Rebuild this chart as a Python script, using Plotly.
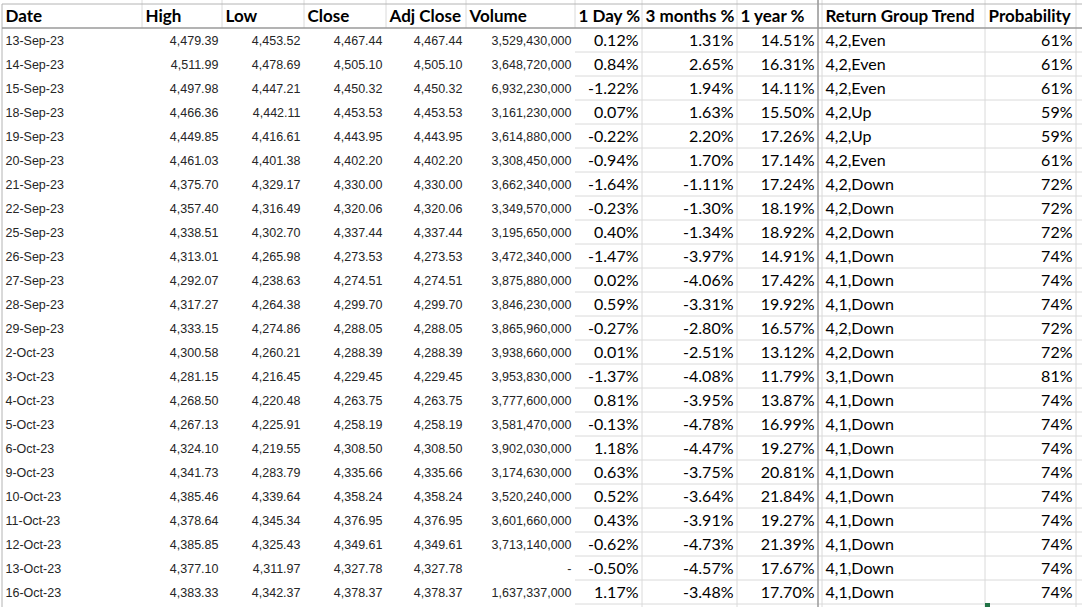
import plotly.graph_objects as go

# spreadsheet content
dates = ["13-Sep-23", "14-Sep-23", "15-Sep-23", "18-Sep-23", "19-Sep-23", "20-Sep-23",
         "21-Sep-23", "22-Sep-23", "25-Sep-23", "26-Sep-23", "27-Sep-23", "28-Sep-23",
         "29-Sep-23", "2-Oct-23", "3-Oct-23", "4-Oct-23", "5-Oct-23", "6-Oct-23",
         "9-Oct-23", "10-Oct-23", "11-Oct-23", "12-Oct-23", "13-Oct-23", "16-Oct-23"]
high = [4479.39, 4511.99, 4497.98, 4466.36, 4449.85, 4461.03, 4375.70, 4357.40, 4338.51,
        4313.01, 4292.07, 4317.27, 4333.15, 4300.58, 4281.15, 4268.50, 4267.13, 4324.10,
        4341.73, 4385.46, 4378.64, 4385.85, 4377.10, 4383.33]
low = [4453.52, 4478.69, 4447.21, 4442.11, 4416.61, 4401.38, 4329.17, 4316.49, 4302.70,
       4265.98, 4238.63, 4264.38, 4274.86, 4260.21, 4216.45, 4220.48, 4225.91, 4219.55,
       4283.79, 4339.64, 4345.34, 4325.43, 4311.97, 4342.37]
close = [4467.44, 4505.10, 4450.32, 4453.53, 4443.95, 4402.20, 4330.00, 4320.06, 4337.44,
         4273.53, 4274.51, 4299.70, 4288.05, 4288.39, 4229.45, 4263.75, 4258.19, 4308.50,
         4335.66, 4358.24, 4376.95, 4349.61, 4327.78, 4378.37]
adj_close = close[:]
volume = [3529430000, 3648720000, 6932230000, 3161230000, 3614880000, 3308450000,
          3662340000, 3349570000, 3195650000, 3472340000, 3875880000, 3846230000,
          3865960000, 3938660000, 3953830000, 3777600000, 3581470000, 3902030000,
          3174630000, 3520240000, 3601660000, 3713140000, None, 1637337000]
day_pct = [0.12, 0.84, -1.22, 0.07, -0.22, -0.94, -1.64, -0.23, 0.40, -1.47, 0.02, 0.59,
           -0.27, 0.01, -1.37, 0.81, -0.13, 1.18, 0.63, 0.52, 0.43, -0.62, -0.50, 1.17]
month3_pct = [1.31, 2.65, 1.94, 1.63, 2.20, 1.70, -1.11, -1.30, -1.34, -3.97, -4.06, -3.31,
              -2.80, -2.51, -4.08, -3.95, -4.78, -4.47, -3.75, -3.64, -3.91, -4.73, -4.57, -3.48]
year1_pct = [14.51, 16.31, 14.11, 15.50, 17.26, 17.14, 17.24, 18.19, 18.92, 14.91, 17.42, 19.92,
             16.57, 13.12, 11.79, 13.87, 16.99, 19.27, 20.81, 21.84, 19.27, 21.39, 17.67, 17.70]
trend = ["4,2,Even", "4,2,Even", "4,2,Even", "4,2,Up", "4,2,Up", "4,2,Even",
         "4,2,Down", "4,2,Down", "4,2,Down", "4,1,Down", "4,1,Down", "4,1,Down",
         "4,2,Down", "4,2,Down", "3,1,Down", "4,1,Down", "4,1,Down", "4,1,Down",
         "4,1,Down", "4,1,Down", "4,1,Down", "4,1,Down", "4,1,Down", "4,1,Down"]
probability = [61, 61, 61, 59, 59, 61, 72, 72, 72, 74, 74, 74,
               72, 72, 81, 74, 74, 74, 74, 74, 74, 74, 74, 74]
headers = ["Date", "High", "Low", "Close", "Adj Close", "Volume", "1 Day %",
           "3 months %", "1 year %", "Return Group Trend", "Probability"]

W, H = 1082, 607
ROW_H = 24
HEAD_TOP = 4
TEXT_DROP = 2  # text sits a bit below the row middle
n = len(dates)

# column edges (px)
col_left = [2, 142, 222, 304, 386, 466, 575, 642, 737, 822, 985]
col_right = [142, 222, 304, 386, 466, 575, 642, 737, 818, 985, 1076]
SPLIT_X = 818

ARIAL = "Liberation Sans"
CALIBRI = "Lato"


def money(v):
    return f"{v:,.2f}"


def vol(v):
    return "-" if v is None else f"{v:,.0f}"


def pct(v):
    return f"{v:.2f}%"


columns = [
    ([d for d in dates], "left", ARIAL, 12.5, "#262626"),
    ([money(v) for v in high], "right", ARIAL, 12.5, "#262626"),
    ([money(v) for v in low], "right", ARIAL, 12.5, "#262626"),
    ([money(v) for v in close], "right", ARIAL, 12.5, "#262626"),
    ([money(v) for v in adj_close], "right", ARIAL, 12.5, "#262626"),
    ([vol(v) for v in volume], "right", ARIAL, 12.5, "#262626"),
    ([pct(v) for v in day_pct], "right", CALIBRI, 16, "#000000"),
    ([pct(v) for v in month3_pct], "right", CALIBRI, 16, "#000000"),
    ([pct(v) for v in year1_pct], "right", CALIBRI, 16, "#000000"),
    (trend, "left", CALIBRI, 16, "#000000"),
    ([f"{v}%" for v in probability], "right", CALIBRI, 16, "#000000"),
]

fig = go.Figure()
rows = list(range(1, n + 1))

for i, (vals, align, fam, size, color) in enumerate(columns):
    if align == "left":
        xs = [col_left[i] + 3.5] * n
        pos = "middle right"
    else:
        xs = [col_right[i] - 3.5] * n
        pos = "middle left"
    fig.add_trace(go.Scatter(
        x=xs, y=rows, mode="text", text=vals, textposition=pos,
        textfont=dict(family=fam, size=size, color=color),
        hoverinfo="skip", showlegend=False, cliponaxis=False))

fig.add_trace(go.Scatter(
    x=[l + 3.5 for l in col_left], y=[0] * len(headers), mode="text", text=headers,
    textposition="middle right",
    textfont=dict(family=CALIBRI, size=17, color="#000000", weight="bold"),
    hoverinfo="skip", showlegend=False, cliponaxis=False))

# grid lines
GRID = "#dadada"
shapes = []
bottom_px = HEAD_TOP + ROW_H * (n + 1)


def line(x0, y0, x1, y1, color=GRID, width=1):
    shapes.append(dict(type="line", xref="x", yref="paper", x0=x0, x1=x1,
                       y0=1 - y0 / H, y1=1 - y1 / H,
                       line=dict(color=color, width=width), layer="below"))


header_edges = sorted(set(col_right + [col_left[9]]))
for x in header_edges:
    line(x, 0, x, HEAD_TOP + ROW_H)
for x in [642, 737, 822, 985, 1076]:
    line(x, HEAD_TOP + ROW_H, x, H)
for r in range(2, n + 2):
    y = HEAD_TOP + ROW_H * r
    line(575, y, W, y)
line(2, HEAD_TOP, W, HEAD_TOP, color="#b4b4b4")
line(2, HEAD_TOP, 2, H, color="#b4b4b4")
line(2, HEAD_TOP + ROW_H, W, HEAD_TOP + ROW_H, color="#9a9a9a", width=1.5)
line(SPLIT_X, 0, SPLIT_X, H, color="#9a9a9a", width=1.5)
# selection fill handle
shapes.append(dict(type="rect", xref="x", yref="paper", x0=985, x1=990,
                   y0=0, y1=1 - (bottom_px - 1) / H,
                   fillcolor="#217346", line=dict(width=0)))

head_center = HEAD_TOP + ROW_H / 2 + TEXT_DROP
fig.update_layout(
    width=W, height=H, margin=dict(l=0, r=0, t=0, b=0),
    paper_bgcolor="white", plot_bgcolor="white",
    xaxis=dict(range=[0, W], visible=False, fixedrange=True),
    yaxis=dict(range=[(H - head_center) / ROW_H, -head_center / ROW_H],
               visible=False, fixedrange=True),
    shapes=shapes,
)

fig.write_html("out.html", config={"displayModeBar": False},
               post_script="document.body.style.margin='0';document.body.style.overflow='hidden';")
